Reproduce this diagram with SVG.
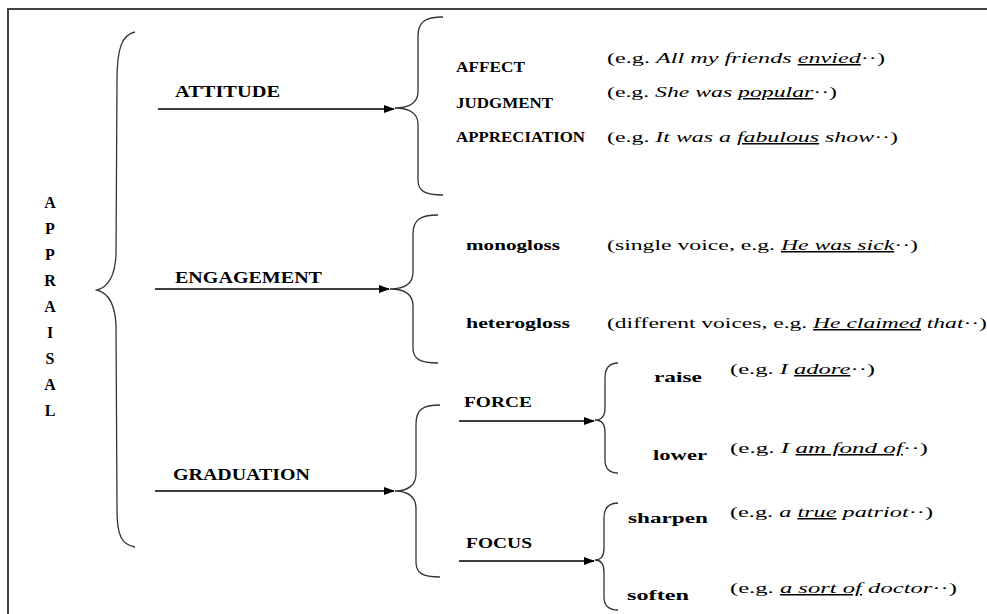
<svg xmlns="http://www.w3.org/2000/svg" width="987" height="614" viewBox="0 0 987 614">
  <defs>
    <marker id="arrow" markerWidth="11" markerHeight="8" refX="10" refY="4" orient="auto" markerUnits="userSpaceOnUse">
      <path d="M0,0 L11,4 L0,8 Z" fill="#000"/>
    </marker>
    <style>
      text { font-family: "Liberation Serif", "DejaVu Serif", serif; fill: #000; }
      .cat { font-size: 17px; font-weight: bold; }
      .ltr { font-size: 16px; font-weight: bold; }
      .sm  { font-size: 14px; font-weight: bold; }
      .sub { font-size: 15px; font-weight: bold; }
      .ex  { font-size: 15px; }
      .it  { font-style: italic; }
      .ul  { text-decoration: underline; }
      .brace { fill: none; stroke: #333; stroke-width: 1.3; }
      .conn { stroke: #000; stroke-width: 1.3; fill: none; marker-end: url(#arrow); }
    </style>
  </defs>

  <rect width="987" height="614" fill="#fff"/>
  <!-- outer frame (open to the right and bottom) -->
  <rect x="8" y="9" width="1000" height="700" fill="none" stroke="#444" stroke-width="2"/>

  <!-- root: APPRAISAL, written vertically -->
  <g id="appraisal">
    <text class="ltr" x="50" y="208" text-anchor="middle">A</text>
    <text class="ltr" x="50" y="234" text-anchor="middle">P</text>
    <text class="ltr" x="50" y="260" text-anchor="middle">P</text>
    <text class="ltr" x="50" y="286" text-anchor="middle">R</text>
    <text class="ltr" x="50" y="312" text-anchor="middle">A</text>
    <text class="ltr" x="50" y="338" text-anchor="middle">I</text>
    <text class="ltr" x="50" y="364" text-anchor="middle">S</text>
    <text class="ltr" x="50" y="390" text-anchor="middle">A</text>
    <text class="ltr" x="50" y="416" text-anchor="middle">L</text>
    <path class="brace" d="M135,32 C122,35 117,48 117,80 L116,255 C115,276 108,287 97,290 C108,293 115,304 116,325 L117,510 C117,536 122,545 135,547"/>
  </g>

  <!-- ATTITUDE branch -->
  <g id="attitude">
    <text class="cat" x="175" y="97" textLength="105" lengthAdjust="spacingAndGlyphs">ATTITUDE</text>
    <path class="brace" d="M443,17 C425,17 418,22 418,36 L418,92 C418,102 410,108 395,108 C410,108 418,114 418,124 L418,180 C418,191 425,195 443,195"/>
    <text class="sm" x="456" y="72" textLength="69" lengthAdjust="spacingAndGlyphs">AFFECT</text>
    <text class="sm" x="456" y="108" textLength="97" lengthAdjust="spacingAndGlyphs">JUDGMENT</text>
    <text class="sm" x="456" y="142" textLength="129" lengthAdjust="spacingAndGlyphs">APPRECIATION</text>
    <text class="ex" x="607" y="63" textLength="278" lengthAdjust="spacingAndGlyphs">(e.g. <tspan class="it">All my friends <tspan class="ul">envied</tspan></tspan>··)</text>
    <text class="ex" x="607" y="97" textLength="230" lengthAdjust="spacingAndGlyphs">(e.g. <tspan class="it">She was <tspan class="ul">popular</tspan></tspan>··)</text>
    <text class="ex" x="607" y="142" textLength="291" lengthAdjust="spacingAndGlyphs">(e.g. <tspan class="it">It was a <tspan class="ul">fabulous</tspan> show</tspan>··)</text>
  </g>

  <!-- ENGAGEMENT branch -->
  <g id="engagement">
    <text class="cat" x="175" y="283" textLength="147" lengthAdjust="spacingAndGlyphs">ENGAGEMENT</text>
    <path class="brace" d="M438,215 C420,215 413,220 413,234 L413,272 C413,283 405,289 390,289 C405,289 413,295 413,306 L413,348 C413,359 420,363 438,363"/>
    <text class="sub" x="466" y="250" textLength="94" lengthAdjust="spacingAndGlyphs">monogloss</text>
    <text class="sub" x="466" y="328" textLength="104" lengthAdjust="spacingAndGlyphs">heterogloss</text>
    <text class="ex" x="607" y="250" textLength="311" lengthAdjust="spacingAndGlyphs">(single voice, e.g. <tspan class="it ul">He was sick</tspan>··)</text>
    <text class="ex" x="607" y="328" textLength="380" lengthAdjust="spacingAndGlyphs">(different voices, e.g. <tspan class="it"><tspan class="ul">He claimed</tspan> that</tspan>··)</text>
  </g>

  <!-- GRADUATION branch -->
  <g id="graduation">
    <text class="cat" x="173" y="480" textLength="137" lengthAdjust="spacingAndGlyphs">GRADUATION</text>
    <path class="brace" d="M440,405 C422,405 416,410 416,424 L416,474 C416,485 408,491 395,491 C408,491 416,497 416,508 L416,562 C416,573 422,577 440,577"/>
  </g>

  <g id="force">
    <text class="sub" x="464" y="407" textLength="68" lengthAdjust="spacingAndGlyphs">FORCE</text>
    <path class="brace" d="M618,363 C609,363 605,368 605,378 L605,408 C605,416 601,420 595,420 C601,420 605,424 605,432 L605,460 C605,469 609,473 618,473"/>
    <text class="sub" x="654" y="382" textLength="48" lengthAdjust="spacingAndGlyphs">raise</text>
    <text class="sub" x="653" y="460" textLength="54" lengthAdjust="spacingAndGlyphs">lower</text>
    <text class="ex" x="730" y="374" textLength="145" lengthAdjust="spacingAndGlyphs">(e.g. <tspan class="it">I <tspan class="ul">adore</tspan></tspan>··)</text>
    <text class="ex" x="730" y="453" textLength="198" lengthAdjust="spacingAndGlyphs">(e.g. <tspan class="it">I <tspan class="ul">am fond of</tspan></tspan>··)</text>
  </g>

  <g id="focus">
    <text class="sub" x="466" y="548" textLength="66" lengthAdjust="spacingAndGlyphs">FOCUS</text>
    <path class="brace" d="M618,503 C609,503 604,508 604,518 L604,548 C604,556 601,560 595,560 C601,560 604,564 604,572 L604,597 C604,606 609,610 618,610"/>
    <text class="sub" x="628" y="523" textLength="80" lengthAdjust="spacingAndGlyphs">sharpen</text>
    <text class="sub" x="627" y="600" textLength="62" lengthAdjust="spacingAndGlyphs">soften</text>
    <text class="ex" x="730" y="517" textLength="203" lengthAdjust="spacingAndGlyphs">(e.g. <tspan class="it">a <tspan class="ul">true</tspan> patriot</tspan>··)</text>
    <text class="ex" x="730" y="593" textLength="227" lengthAdjust="spacingAndGlyphs">(e.g. <tspan class="it"><tspan class="ul">a sort of</tspan> doctor</tspan>··)</text>
  </g>

  <!-- connectors -->
  <g id="connectors">
    <line class="conn" x1="158" y1="109" x2="394" y2="109"/>
    <line class="conn" x1="155" y1="289" x2="389" y2="289"/>
    <line class="conn" x1="155" y1="491" x2="394" y2="491"/>
    <line class="conn" x1="459" y1="421" x2="594" y2="421"/>
    <line class="conn" x1="459" y1="561" x2="594" y2="561"/>
  </g>
</svg>
